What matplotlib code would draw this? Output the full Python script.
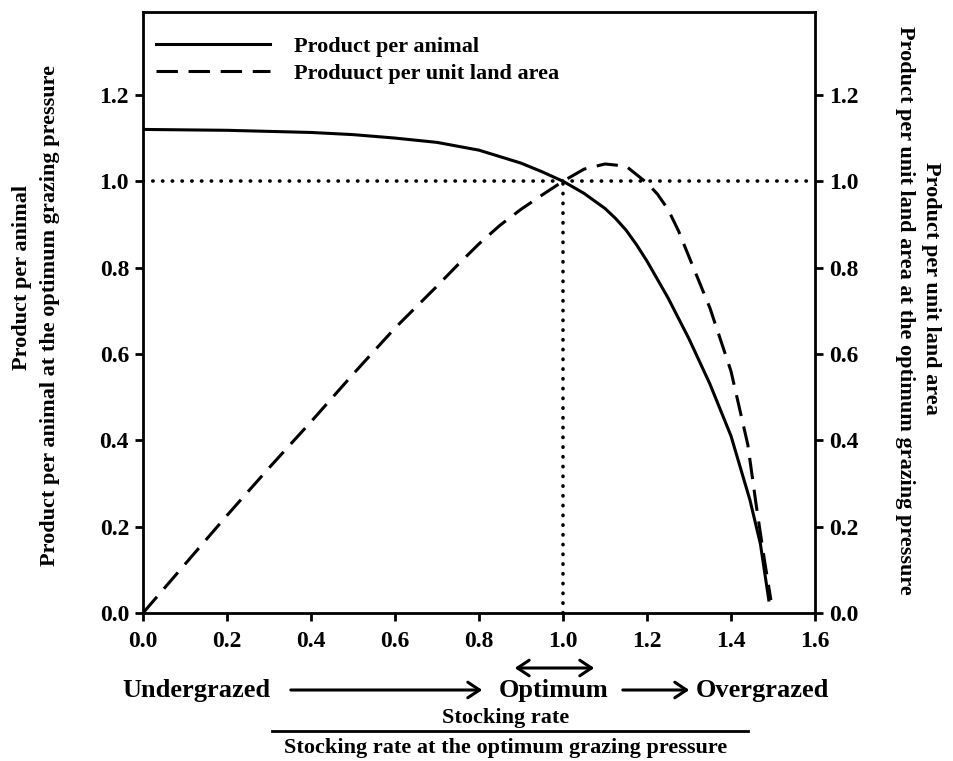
"""
Grazing pressure curves: product per animal and per unit land area vs stocking rate.
"""
import matplotlib
matplotlib.use("Agg")
import matplotlib.pyplot as plt
from matplotlib.patches import FancyArrowPatch

# relative stocking rate (x) and relative product values
x_animal = [0.0, 0.2, 0.4, 0.5, 0.6, 0.7, 0.8, 0.9, 0.95, 1.0, 1.05, 1.1, 1.125,
            1.15, 1.175, 1.2, 1.25, 1.3, 1.35, 1.4, 1.445, 1.47, 1.49]
y_animal = [1.12, 1.118, 1.113, 1.108, 1.10, 1.09, 1.072, 1.042, 1.022, 1.0,
            0.972, 0.937, 0.914, 0.887, 0.853, 0.815, 0.73, 0.635, 0.53, 0.41,
            0.262, 0.16, 0.03]

x_land = [0.0, 0.1, 0.2, 0.3, 0.4, 0.5, 0.6, 0.7, 0.75, 0.8, 0.85, 0.9, 0.95,
          1.0, 1.05, 1.1, 1.15, 1.2, 1.225, 1.25, 1.275, 1.3, 1.35, 1.4, 1.44,
          1.46, 1.48, 1.495]
y_land = [0.0, 0.113, 0.226, 0.336, 0.443, 0.553, 0.66, 0.757, 0.807, 0.855,
          0.898, 0.935, 0.968, 1.0, 1.028, 1.04, 1.035, 0.996, 0.97, 0.935, 0.885,
          0.825, 0.706, 0.56, 0.39, 0.25, 0.12, 0.03]

ticks_x = [0.0, 0.2, 0.4, 0.6, 0.8, 1.0, 1.2, 1.4, 1.6]
ticks_y = [0.0, 0.2, 0.4, 0.6, 0.8, 1.0, 1.2]
optimum = 1.0

plt.rcParams['font.family'] = ['Liberation Serif', 'DejaVu Serif']
plt.rcParams['font.weight'] = 'bold'

W, H = 954, 761
fig = plt.figure(figsize=(W / 100, H / 100), dpi=100)
ax = fig.add_axes([143 / W, 1 - 613 / H, 672 / W, 601 / H])

ax.plot(x_animal, y_animal, color='black', lw=2.2, label='Product per animal')
ax.plot(x_land, y_land, color='black', lw=2.2, dashes=(7, 3.5),
        label='Produuct per unit land area')
ax.plot([0, 1.6], [optimum, optimum], color='black', lw=2.6,
        linestyle=(0, (0.1, 2.6)), dash_capstyle='round')
ax.plot([optimum, optimum], [0, optimum], color='black', lw=2.6,
        linestyle=(0, (0.1, 2.6)), dash_capstyle='round')

ax.set_xlim(0, 1.6)
ax.set_ylim(0, 1.392)
ax.set_xticks(ticks_x)
ax.set_xticklabels([f"{v:.1f}" for v in ticks_x])
ax.set_yticks(ticks_y)
ax.set_yticklabels([f"{v:.1f}" for v in ticks_y])
ax.tick_params(direction='out', length=6, width=2, labelsize=17, pad=4)
ax.tick_params(axis='x', pad=7)
for sp in ax.spines.values():
    sp.set_linewidth(2)

ax2 = ax.twinx()
ax2.set_ylim(ax.get_ylim())
ax2.set_yticks(ticks_y)
ax2.set_yticklabels([f"{v:.1f}" for v in ticks_y])
ax2.tick_params(direction='out', length=6, width=2, labelsize=17, pad=4)

ax.legend(loc='upper left', frameon=False, fontsize=16, handlelength=5.1,
          handletextpad=1.1, borderaxespad=0.2, labelspacing=0.3,
          bbox_to_anchor=(0, 0.982))

# axis titles
fig.text(22 / W, 1 - 277 / H, "Product per animal", rotation=90, ha='center',
         va='center', fontsize=16)
fig.text(50 / W, 1 - 316 / H, "Product per animal at the optimum grazing pressure",
         rotation=90, ha='center', va='center', fontsize=16)
fig.text(931 / W, 1 - 288 / H, "Product per unit land area", rotation=270,
         ha='center', va='center', fontsize=16)
fig.text(905 / W, 1 - 310 / H,
         "Product per unit land area at the optimum grazing pressure",
         rotation=270, ha='center', va='center', fontsize=16)

# grazing state annotation
yrow = 1 - 690 / H
fig.text(196 / W, yrow, "Undergrazed", ha='center', va='center', fontsize=19)
fig.text(554 / W, yrow, "Optimum", ha='center', va='center', fontsize=19)
fig.text(762 / W, yrow, "Overgrazed", ha='center', va='center', fontsize=19)
for x0, x1 in [(288, 485), (620, 692)]:
    fig.add_artist(FancyArrowPatch(
        (x0 / W, yrow), (x1 / W, yrow), transform=fig.transFigure,
        arrowstyle='->,head_length=6,head_width=4', lw=2.2, color='black',
        mutation_scale=1.4))
yopt = 1 - 668 / H
fig.add_artist(FancyArrowPatch(
    (512 / W, yopt), (597 / W, yopt), transform=fig.transFigure,
    arrowstyle='<->,head_length=6,head_width=4', lw=2.2, color='black',
    mutation_scale=1.4))

# x axis title as a fraction
fig.text(506 / W, 1 - 718 / H, "Stocking rate", ha='center', va='center',
         fontsize=16)
fig.add_artist(plt.Line2D([272 / W, 748 / W], [1 - 731 / H, 1 - 731 / H],
                          transform=fig.transFigure, color='black', lw=2))
fig.text(506 / W, 1 - 748 / H, "Stocking rate at the optimum grazing pressure",
         ha='center', va='center', fontsize=16)

fig.savefig("out.png", dpi=100)
